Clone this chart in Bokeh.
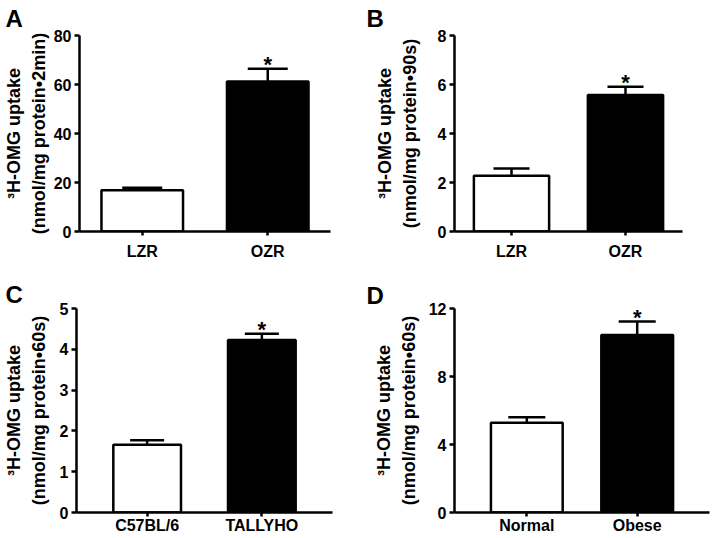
from bokeh.plotting import figure
from bokeh.models import FactorRange, Range1d, FixedTicker, Whisker, TeeHead, ColumnDataSource
from bokeh.layouts import column, row
from bokeh.embed import file_html
from bokeh.resources import INLINE
from bokeh.core.properties import value

# ---- data ----
groups_a = ["LZR", "OZR"]
mean_a = [16.8, 61.2]
sem_a = [1.1, 5.2]
stars_a = ["", "*"]
ticks_a = [0, 20, 40, 60, 80]
ylabel_a = "\u00b3H-OMG uptake\n(nmol/mg protein\u20222min)"

groups_b = ["LZR", "OZR"]
mean_b = [2.28, 5.57]
sem_b = [0.29, 0.34]
stars_b = ["", "*"]
ticks_b = [0, 2, 4, 6, 8]
ylabel_b = "\u00b3H-OMG uptake\n(nmol/mg protein\u202290s)"

groups_c = ["C57BL/6", "TALLYHO"]
mean_c = [1.66, 4.23]
sem_c = [0.11, 0.15]
stars_c = ["", "*"]
ticks_c = [0, 1, 2, 3, 4, 5]
ylabel_c = "\u00b3H-OMG uptake\n(nmol/mg protein\u202260s)"

groups_d = ["Normal", "Obese"]
mean_d = [5.28, 10.44]
sem_d = [0.33, 0.80]
stars_d = ["", "*"]
ticks_d = [0, 4, 8, 12]
ylabel_d = "\u00b3H-OMG uptake\n(nmol/mg protein\u202260s)"

FONT = "Liberation Sans"
BAR_COLORS = ["white", "black"]


def panel(letter, groups, means, sems, stars, ticks, ylabel, w, h, borders,
          pad, bar_w, ylab_standoff, xlab_standoff, letter_off, letter_standoff,
          letter_valign, cap):
    bl, br, bt, bb = borders
    p = figure(x_range=FactorRange(*groups, range_padding=pad),
               y_range=Range1d(0, ticks[-1]),
               width=w, height=h, output_backend="svg", toolbar_location=None,
               min_border_left=bl, min_border_right=br, min_border_top=bt,
               min_border_bottom=bb)
    p.xgrid.visible = False
    p.ygrid.visible = False
    p.outline_line_color = None
    p.background_fill_color = "white"
    p.border_fill_color = "white"

    p.title.text = letter
    p.title.align = "left"
    p.title.vertical_align = letter_valign
    p.title.offset = letter_off
    p.title.standoff = letter_standoff
    p.title.text_font = FONT
    p.title.text_font_style = "bold"
    p.title.text_font_size = "24px"
    p.title.text_color = "black"

    p.yaxis.ticker = FixedTicker(ticks=ticks)
    p.yaxis.minor_tick_line_color = None
    p.yaxis.major_tick_out = 5
    p.yaxis.major_tick_in = 0
    p.yaxis.major_label_standoff = 3
    p.xaxis.major_tick_out = 4
    p.xaxis.major_tick_in = 0
    p.xaxis.major_label_standoff = xlab_standoff
    for ax in (p.xaxis, p.yaxis):
        ax.axis_line_width = 2.5
        ax.axis_line_color = "black"
        ax.major_tick_line_width = 2.5
        ax.major_tick_line_color = "black"
        ax.major_label_text_font = FONT
        ax.major_label_text_font_style = "bold"
        ax.major_label_text_font_size = "16px"
        ax.major_label_text_color = "black"
    p.yaxis.axis_label = ylabel
    p.yaxis.axis_label_text_font = FONT
    p.yaxis.axis_label_text_font_style = "bold"
    p.yaxis.axis_label_text_font_size = "18px"
    p.yaxis.axis_label_text_line_height = 1.25
    p.yaxis.axis_label_text_color = "black"
    p.yaxis.axis_label_standoff = ylab_standoff

    tops = [m + s for m, s in zip(means, sems)]
    src = ColumnDataSource(dict(x=groups, top=means, upper=tops, color=BAR_COLORS,
                                star=stars))
    p.vbar(x="x", top="top", width=bar_w, source=src, fill_color="color",
           line_color="black", line_width=2.5)
    p.add_layout(Whisker(source=src, base="x", lower="top", upper="upper",
                         line_color="black", line_width=2.5,
                         upper_head=TeeHead(size=cap, line_width=2.5, line_color="black"),
                         lower_head=None))
    p.text(x="x", y="upper", text="star", source=src, text_align="center",
           text_baseline="alphabetic", y_offset=-4,
           text_font=value(FONT), text_font_style="bold", text_font_size="22px",
           text_color="black")
    return p


pA = panel("A", groups_a, mean_a, sem_a, stars_a, ticks_a, ylabel_a, 357, 269,
           (74, 27, 35, 38), 0.0, 0.65, 2, 7, -74, 4, "top", 40)
pB = panel("B", groups_b, mean_b, sem_b, stars_b, ticks_b, ylabel_b, 357, 269,
           (97, 32, 34, 38), 0.0, 0.66, 15, 7, -88, 3, "top", 36)
pC = panel("C", groups_c, mean_c, sem_c, stars_c, ticks_c, ylabel_c, 357, 269,
           (73, 25, 38, 26), 0.116, 0.59, 8, 0, -71, 2, "bottom", 34)
pD = panel("D", groups_d, mean_d, sem_d, stars_d, ticks_d, ylabel_d, 357, 269,
           (97, 5, 39, 25), 0.155, 0.65, 7, 0, -88, 0, "bottom", 37)

layout = column(row(pA, pB), row(pC, pD))

open("out.html", "w").write(file_html(layout, INLINE))
